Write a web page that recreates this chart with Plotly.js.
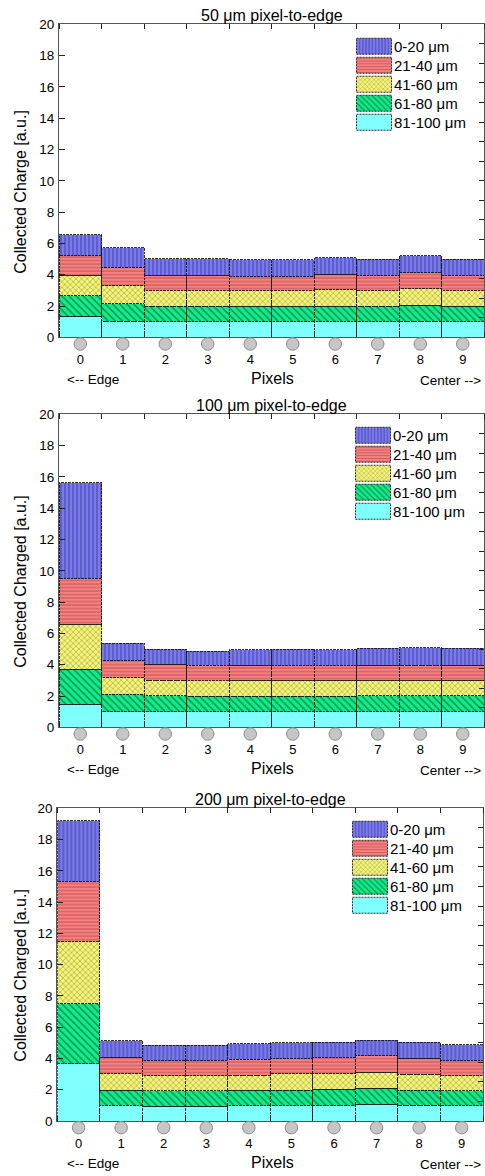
<!DOCTYPE html>
<html>
<head>
<meta charset="utf-8">
<script src="https://cdn.plot.ly/plotly-3.0.1.min.js"></script>
<style>
  html, body { margin: 0; padding: 0; background: #fff; }
  #chart { width: 485px; height: 1176px; }
</style>
</head>
<body>
<div id="chart"></div>
<script>
// Pixel index along the sensor, from the edge to the centre
const pixels = [0, 1, 2, 3, 4, 5, 6, 7, 8, 9];
const pixelLabels = ['0', '1', '2', '3', '4', '5', '6', '7', '8', '9'];

// Depth bands (legend order, top of stack first)
const bandNames = ['0-20 μm', '21-40 μm', '41-60 μm', '61-80 μm', '81-100 μm'];

// Panel titles and y-axis titles
const panelTitles = ['50 μm pixel-to-edge', '100 μm pixel-to-edge', '200 μm pixel-to-edge'];
const yTitles = ['Collected Charge [a.u.]', 'Collected Charged [a.u.]', 'Collected Charged [a.u.]'];

// Collected charge per depth band, 50 μm pixel-to-edge
const blue50   = [1.32, 1.26, 1.07, 1.07, 1.06, 1.06, 1.04, 1.04, 1.07, 1.04];
const red50    = [1.24, 1.17, 1.00, 1.00, 0.92, 0.92, 0.98, 0.96, 1.02, 0.98];
const yellow50 = [1.32, 1.15, 0.98, 0.98, 0.96, 0.98, 1.05, 0.98, 1.07, 0.98];
const green50  = [1.32, 1.11, 1.00, 1.00, 1.00, 0.98, 1.00, 1.00, 1.00, 0.98];
const cyan50   = [1.34, 1.04, 0.98, 0.98, 1.00, 1.00, 1.00, 1.00, 1.04, 1.00];

// Collected charge per depth band, 100 μm pixel-to-edge
const blue100   = [6.13, 1.11, 0.95, 0.90, 0.98, 1.04, 1.00, 1.09, 1.13, 1.09];
const red100    = [2.92, 1.09, 1.01, 0.98, 0.94, 0.92, 0.92, 0.94, 0.94, 0.94];
const yellow100 = [2.87, 1.06, 1.00, 0.98, 1.02, 1.02, 1.02, 1.00, 1.00, 1.00];
const green100  = [2.24, 1.11, 1.02, 1.02, 1.00, 1.00, 1.00, 1.02, 1.02, 1.02];
const cyan100   = [1.47, 1.00, 1.00, 0.98, 1.00, 1.00, 1.00, 1.00, 1.00, 1.00];

// Collected charge per depth band, 200 μm pixel-to-edge
const blue200   = [3.88, 1.05, 0.98, 0.98, 0.99, 1.02, 1.00, 1.02, 1.04, 1.02];
const red200    = [3.86, 1.06, 0.98, 0.98, 1.00, 0.98, 1.02, 1.05, 1.02, 0.96];
const yellow200 = [3.94, 1.03, 0.96, 0.96, 0.98, 1.03, 1.00, 1.02, 1.01, 0.96];
const green200  = [3.86, 1.00, 0.98, 0.98, 0.98, 1.00, 1.05, 1.02, 0.98, 0.96];
const cyan200   = [3.65, 0.98, 0.94, 0.94, 0.98, 0.98, 0.98, 1.07, 1.00, 0.98];

const panelSeries = [
  [blue50, red50, yellow50, green50, cyan50],
  [blue100, red100, yellow100, green100, cyan100],
  [blue200, red200, yellow200, green200, cyan200]
];

// ---- styling ----
const FONT = 'Liberation Sans, Arial, Helvetica, sans-serif';
const W = 485, H = 1176;
const fx = v => v / W;          // page px -> paper x
const fy = v => 1 - v / H;      // page px -> paper y

const bandStyles = [
  { color: '#7a7af0', fg: '#1e1e60', shape: '|', size: 4, solidity: 0.3 },
  { color: '#f88080', fg: '#8a3030', shape: '-', size: 3.5, solidity: 0.3 },
  { color: '#f4f478', fg: '#303010', shape: 'x', size: 4, solidity: 0.25 },
  { color: '#10ec88', fg: '#0a3a20', shape: '\\', size: 5, solidity: 0.3 },
  { color: '#80ffff', fg: '#80ffff', shape: '', size: 4, solidity: 0.2 }
];

const frame = [
  { top: 24.3, bottom: 337.3, left: 59, right: 484, legX: 354, legY: 30 },
  { top: 414.3, bottom: 727.3, left: 59, right: 484, legX: 353, legY: 419 },
  { top: 808.3, bottom: 1121, left: 57.3, right: 483, legX: 350, legY: 813 }
];

const traces = [];
const layout = {
  width: W, height: H,
  margin: { l: 0, r: 0, t: 0, b: 0 },
  paper_bgcolor: '#fff', plot_bgcolor: '#fff',
  barmode: 'stack', bargap: 0,
  font: { family: FONT, color: '#000', size: 13 },
  showlegend: true,
  annotations: []
};

const edges = pixels.map(p => p - 0.5).concat([pixels[pixels.length - 1] + 0.5]);

frame.forEach((f, p) => {
  const sfx = p === 0 ? '' : String(p + 1);
  const xa = 'x' + sfx, ya = 'y' + sfx;
  const rightId = 'y' + (p + 4);
  const stripId = 'y' + (p + 7);
  const legendId = p === 0 ? 'legend' : 'legend' + (p + 1);

  // stacked bars, bottom band first
  for (let s = bandNames.length - 1; s >= 0; s--) {
    const st = bandStyles[s];
    traces.push({
      type: 'bar', x: pixels, y: panelSeries[p][s], name: bandNames[s],
      xaxis: xa, yaxis: ya, legend: legendId,
      marker: {
        color: st.color,
        line: { color: '#1a1a1a', width: 0.9 },
        pattern: { shape: st.shape, fillmode: 'overlay', fgcolor: st.fg, bgcolor: st.color, size: st.size, solidity: st.solidity }
      },
      hoverinfo: 'skip'
    });
  }
  // pixel markers in a thin strip just below the axis
  traces.push({
    type: 'scatter', mode: 'markers', x: pixels, y: pixels.map(() => 0.5),
    xaxis: xa, yaxis: stripId, showlegend: false, cliponaxis: false, hoverinfo: 'skip',
    marker: { size: 12.5, color: '#c6c6c6', line: { color: '#8c8c8c', width: 1 } }
  });

  layout['xaxis' + sfx] = {
    domain: [fx(f.left), fx(f.right)], anchor: ya,
    range: [-0.5, 9.5], fixedrange: true,
    tickmode: 'array', tickvals: pixels, ticktext: pixelLabels,
    ticks: '', ticklabelstandoff: 10,
    minor: { tickmode: 'array', tickvals: edges, ticks: 'inside', ticklen: 5, tickcolor: '#222', tickwidth: 1 },
    showline: true, linecolor: '#555', linewidth: 1, mirror: 'ticks',
    showgrid: false, zeroline: false,
    tickfont: { size: 13, family: FONT, color: '#000' }
  };
  layout['yaxis' + sfx] = {
    domain: [fy(f.bottom), fy(f.top)], anchor: xa,
    range: [0, 20], fixedrange: true,
    tickmode: 'linear', tick0: 0, dtick: 2,
    ticks: 'inside', ticklen: 6, tickcolor: '#222', tickwidth: 1,
    showline: true, linecolor: '#555', linewidth: 1, mirror: true,
    showgrid: false, zeroline: false, ticklabelstandoff: 1,
    tickfont: { size: 13.5, family: FONT, color: '#000' }
  };
  // unlabelled tick marks along the right frame
  layout['yaxis' + (p + 4)] = {
    overlaying: ya, anchor: xa, side: 'right',
    range: [0, 16], fixedrange: true,
    tickmode: 'linear', tick0: 0, dtick: 1,
    ticks: 'inside', ticklen: 5, tickcolor: '#222', tickwidth: 1,
    showticklabels: false, showline: false, showgrid: false, zeroline: false
  };
  traces.push({ type: 'scatter', x: [], y: [], xaxis: xa, yaxis: rightId, showlegend: false, hoverinfo: 'skip' });
  // hidden strip holding the pixel markers
  layout['yaxis' + (p + 7)] = {
    domain: [fy(f.bottom + 13.4), fy(f.bottom)], anchor: xa,
    range: [0, 1], fixedrange: true, visible: false
  };

  layout[legendId] = {
    x: fx(f.legX), y: fy(f.legY), xanchor: 'left', yanchor: 'top',
    traceorder: 'reversed', bgcolor: 'rgba(0,0,0,0)', borderwidth: 0,
    font: { size: 15, family: FONT, color: '#000' },
    itemwidth: 30, tracegroupgap: 0
  };

  const cx = (f.left + f.right) / 2;
  layout.annotations.push(
    { text: panelTitles[p], xref: 'paper', yref: 'paper', x: fx(cx), y: fy(f.top - 8.5), xanchor: 'center', yanchor: 'middle', showarrow: false, font: { size: 16, family: FONT } },
    { text: yTitles[p], xref: 'paper', yref: 'paper', x: fx(21), y: fy((f.top + f.bottom) / 2 + 11), xanchor: 'center', yanchor: 'middle', textangle: -90, showarrow: false, font: { size: 16, family: FONT } },
    { text: 'Pixels', xref: 'paper', yref: 'paper', x: fx(272), y: fy(f.bottom + 41), xanchor: 'center', yanchor: 'middle', showarrow: false, font: { size: 16, family: FONT } },
    { text: '<-- Edge', xref: 'paper', yref: 'paper', x: fx(65), y: fy(f.bottom + 42), xanchor: 'left', yanchor: 'middle', showarrow: false, font: { size: 13.5, family: FONT } },
    { text: 'Center -->', xref: 'paper', yref: 'paper', x: fx(483), y: fy(f.bottom + 43), xanchor: 'right', yanchor: 'middle', showarrow: false, font: { size: 13.5, family: FONT } }
  );
});

// Legend rows packed tightly with wide swatches; bar outlines dashed
function finishStyling(gd) {
  const legends = Array.from(gd.querySelectorAll('g')).filter(g => /^legend\d*$/.test(g.getAttribute('class') || ''));
  legends.forEach(leg => {
    const items = Array.from(leg.querySelectorAll('g.traces')).map(el => {
      const m = /translate\(\s*([-\d.e]+)[ ,]+([-\d.e]+)\s*\)/.exec(el.getAttribute('transform') || '');
      return { el, x: m ? parseFloat(m[1]) : 0, y: m ? parseFloat(m[2]) : 0 };
    }).sort((a, b) => a.y - b.y);
    if (!items.length) return;
    const y0 = items[0].y;
    items.forEach((it, i) => it.el.setAttribute('transform', 'translate(' + it.x + ',' + (y0 + i * 19) + ')'));
    leg.querySelectorAll('.legendpoints path').forEach(el => {
      el.setAttribute('d', 'M17.5,8H-17.5V-8H17.5Z');
      el.style.strokeDasharray = '2,1';
    });
  });
  gd.querySelectorAll('.barlayer .point path').forEach(el => {
    el.style.strokeDasharray = '2.5,1';
  });
}

Plotly.newPlot('chart', traces, layout, { staticPlot: true, displayModeBar: false }).then(gd => {
  gd.on('plotly_afterplot', () => finishStyling(gd));
  finishStyling(gd);
  setTimeout(() => finishStyling(gd), 50);
  setTimeout(() => finishStyling(gd), 300);
});
</script>
</body>
</html>
